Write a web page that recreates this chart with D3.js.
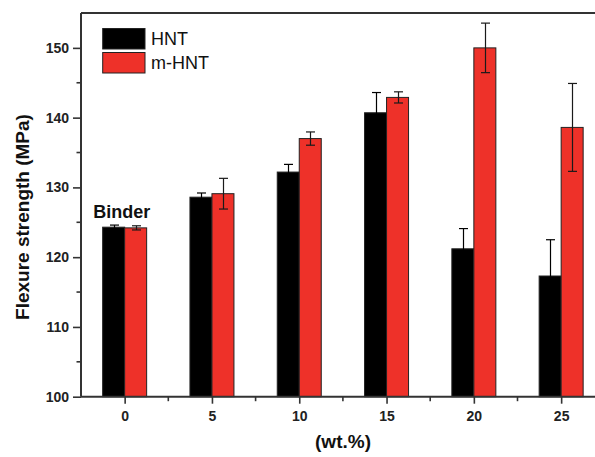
<!DOCTYPE html>
<html><head><meta charset="utf-8">
<script src="https://cdn.jsdelivr.net/npm/d3@7"></script>
<style>body{margin:0;background:#fff}svg{display:block}</style>
</head><body><svg id="c" width="595" height="457"></svg>
<script>
const categories = [0, 5, 10, 15, 20, 25];
const hnt = [124.3, 128.6, 132.2, 140.7, 121.2, 117.3];
const hntErr = [0.3, 0.6, 1.1, 2.9, 2.9, 5.2];
const mhnt = [124.2, 129.1, 137.0, 142.9, 150.0, 138.6];
const mhntErr = [0.3, 2.2, 0.95, 0.8, 3.55, 6.3];
const yTicks = [100, 110, 120, 130, 140, 150];
const seriesNames = ["HNT", "m-HNT"];
const colors = ["#000000", "#ee3129"];

const svg = d3.select("#c");
const mLeft = 81, mTop = 13, mBottom = 396.7, mRight = 604.8;
const x = d3.scaleLinear().domain([-2.5, 27.5]).range([mLeft, mRight]);
const y = d3.scaleLinear().domain([100, 155]).range([mBottom, mTop]);
const barW = 22;
const axisColor = "#333";

const series = [
  {name: seriesNames[0], vals: hnt, err: hntErr, color: colors[0], off: -barW, errColor: "#000"},
  {name: seriesNames[1], vals: mhnt, err: mhntErr, color: colors[1], off: 0, errColor: "#1a1a1a"}
];

// bars
series.forEach(s => {
  svg.append("g").selectAll("rect").data(categories).join("rect")
    .attr("x", (d) => x(d) + s.off)
    .attr("y", (d, i) => y(s.vals[i]))
    .attr("width", barW)
    .attr("height", (d, i) => y(100) - y(s.vals[i]))
    .attr("fill", s.color)
    .attr("stroke", "#222").attr("stroke-width", 1);
});
// error bars
series.forEach(s => {
  const g = svg.append("g").attr("stroke", s.errColor).attr("stroke-width", 1.2);
  categories.forEach((d, i) => {
    const cx = Math.round(x(d) + s.off + barW / 2) + 0.5;
    const y1 = y(s.vals[i] + s.err[i]), y2 = y(s.vals[i] - s.err[i]);
    g.append("line").attr("x1", cx).attr("x2", cx).attr("y1", y1).attr("y2", y2);
    g.append("line").attr("x1", cx - 4.5).attr("x2", cx + 4.5).attr("y1", y1).attr("y2", y1);
    g.append("line").attr("x1", cx - 4.5).attr("x2", cx + 4.5).attr("y1", y2).attr("y2", y2);
  });
});

// frame top
svg.append("line").attr("x1", mLeft).attr("x2", mRight).attr("y1", mTop).attr("y2", mTop)
  .attr("stroke", axisColor).attr("stroke-width", 2);

// y axis
const yAxis = d3.axisLeft(y).tickValues(yTicks).tickSize(8).tickPadding(4).tickFormat(d3.format("d"));
const gy = svg.append("g").attr("transform", `translate(${mLeft},0)`).call(yAxis);
gy.select(".domain").attr("stroke", axisColor).attr("stroke-width", 2).attr("d", `M0,${mBottom}V${mTop}`);
gy.selectAll(".tick line").attr("stroke", axisColor).attr("stroke-width", 1.6);
gy.selectAll(".tick text").attr("font-family", "Liberation Sans, Arial, sans-serif")
  .attr("font-weight", "bold").attr("font-size", 14).attr("fill", "#222");
const yMinor = d3.range(105, 155, 10);
svg.append("g").selectAll("line").data(yMinor).join("line")
  .attr("x1", mLeft - 4.5).attr("x2", mLeft).attr("y1", d => y(d)).attr("y2", d => y(d))
  .attr("stroke", axisColor).attr("stroke-width", 1.6);

// x axis
const xAxis = d3.axisBottom(x).tickValues(categories).tickSize(7).tickPadding(7).tickFormat(d3.format("d"));
const gx = svg.append("g").attr("transform", `translate(0,${mBottom})`).call(xAxis);
gx.select(".domain").attr("stroke", axisColor).attr("stroke-width", 2).attr("d", `M${mLeft},0H${mRight}`);
gx.selectAll(".tick line").attr("stroke", axisColor).attr("stroke-width", 1.6);
gx.selectAll(".tick text").attr("font-family", "Liberation Sans, Arial, sans-serif")
  .attr("font-weight", "bold").attr("font-size", 14).attr("fill", "#222");
const xMinor = categories.map(d => d + 2.5);
svg.append("g").selectAll("line").data(xMinor).join("line")
  .attr("x1", d => x(d)).attr("x2", d => x(d)).attr("y1", mBottom).attr("y2", mBottom + 4.5)
  .attr("stroke", axisColor).attr("stroke-width", 1.6);

// labels
svg.append("text").attr("transform", "translate(28.5,217) rotate(-90)")
  .attr("text-anchor", "middle").attr("font-family", "Liberation Sans, Arial, sans-serif")
  .attr("font-weight", "bold").attr("font-size", 19).attr("fill", "#111")
  .text("Flexure strength (MPa)");
svg.append("text").attr("x", 343).attr("y", 448).attr("text-anchor", "middle")
  .attr("font-family", "Liberation Sans, Arial, sans-serif")
  .attr("font-weight", "bold").attr("font-size", 19).attr("fill", "#111").text("(wt.%)");
svg.append("text").attr("x", x(0) - 31.5).attr("y", 218)
  .attr("font-family", "Liberation Sans, Arial, sans-serif")
  .attr("font-weight", "bold").attr("font-size", 18).attr("fill", "#111").text("Binder");

// legend
const leg = svg.append("g");
series.forEach((s, i) => {
  leg.append("rect").attr("x", 102.7).attr("y", 28.5 + i * 24).attr("width", 42.3).attr("height", 20.5)
    .attr("fill", s.color).attr("stroke", "#222").attr("stroke-width", 1);
  leg.append("text").attr("x", 151).attr("y", 45 + i * 23.5)
    .attr("font-family", "Liberation Sans, Arial, sans-serif").attr("font-size", 18).attr("fill", "#111")
    .text(s.name);
});
</script></body></html>
